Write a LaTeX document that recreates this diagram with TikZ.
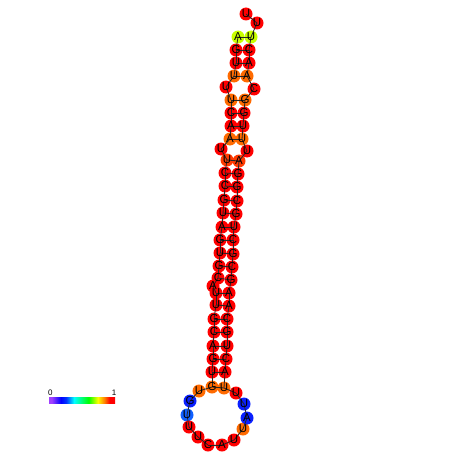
\documentclass[tikz,border=0pt]{standalone}
\usepackage{fontspec}
\setmainfont{Liberation Sans}
\definecolor{cR}{HTML}{FF0000}
\definecolor{cO}{HTML}{FF6A00}
\definecolor{cOR}{HTML}{FF3A00}
\definecolor{cYG}{HTML}{C8FF00}
\definecolor{cB}{HTML}{0A20FF}
\definecolor{cLB}{HTML}{1060FF}
\definecolor{cPu}{HTML}{A040FF}
\pgfdeclarehorizontalshading{rainbow}{100bp}{
  color(0bp)=(cPu);
  color(25bp)=(cPu);
  color(27bp)=(cPu);
  color(34bp)=(blue);
  color(38bp)=(blue!80!cyan);
  color(44bp)=(cyan);
  color(55bp)=(green);
  color(62bp)=(yellow);
  color(67bp)=(orange);
  color(71bp)=(red);
  color(75bp)=(red);
  color(100bp)=(red)}
\tikzset{
  base/.style={circle, minimum size=13pt, inner sep=0pt, draw=none},
  lbl/.style={font=\fontsize{11.5}{12}\selectfont, text=black},
  bb/.style={draw=black!85, line width=0.8pt},
  pr/.style={draw=black!85, line width=0.8pt}
}
\begin{document}
\begin{tikzpicture}[x=1pt,y=-1pt]
\useasboundingbox (0,0) rectangle (452,452);
\foreach \i/\x/\y/\c in {
1/238/37/cYG, 2/236/50/cR, 3/236/63/cR, 4/234/76/cO, 5/226/87/cR,
6/231/100/cO, 7/231/113/cR, 8/231/126/cR, 9/230/139/cO, 10/221/149/cR,
11/227/160/cOR, 12/225/173/cR, 13/225/186/cR, 14/224/200/cR, 15/223/213/cR,
16/222/227/cR, 17/220/240/cR, 18/220/253/cR, 19/219/266/cR, 20/218/278/cR,
21/213/286/cR, 22/216/293/cR, 23/216/305/cR, 24/214/319/cR, 25/214/332/cR,
26/213/346/cR, 27/213/359/cR, 28/212/372/cR, 29/212/387/cO, 30/199/391/cO,
31/190/401/cB, 32/187/415/cLB, 33/189/427/cR, 34/198/437/cR, 35/208/445/cR,
36/222/445/cR, 37/234/440/cR, 38/243/429/cO, 39/247/418/cB, 40/244/404/cB,
41/236/393/cR, 42/224/388/cO, 43/225/372/cR, 44/226/359/cR, 45/227/346/cR,
46/227/332/cR, 47/227/319/cR, 48/229/306/cR, 49/229/293/cR, 50/231/280/cR,
51/232/267/cR, 52/233/254/cR, 53/233/240/cR, 54/234/227/cR, 55/236/214/cR,
56/237/201/cR, 57/237/187/cR, 58/238/174/cR, 59/239/161/cOR, 60/247/151/cR,
61/242/139/cO, 62/243/126/cR, 63/244/113/cR, 64/245/100/cO, 65/254/89/cR,
66/247/76/cO, 67/249/63/cR, 68/249/50/cR, 69/251/37/cYG, 70/257/23/cR,
71/246/14/cR}
  \node[base, fill=\c] (n\i) at (\x,\y) {};
% backbone
\foreach \i [evaluate=\i as \j using int(\i+1)] in {1,...,70}
  \draw[bb] (n\i.center) -- (n\j.center);
% pairs
\foreach \a/\b in {1/69,2/68,3/67,4/66,6/64,7/63,8/62,9/61,11/59,12/58,13/57,14/56,
  15/55,16/54,17/53,18/52,19/51,20/50,22/49,23/48,24/47,25/46,26/45,27/44,28/43,29/42}
  \draw[pr] (n\a.center) -- (n\b.center);
% letters
\foreach \i/\t in {1/A,2/G,3/U,4/U,5/U,6/U,7/C,8/A,9/A,10/U,11/U,12/C,13/C,14/G,15/U,
  16/A,17/G,18/U,19/G,20/C,21/A,22/U,23/U,24/G,25/C,26/A,27/G,28/U,29/G,30/U,
  31/G,32/U,33/U,34/U,35/C,36/A,37/U,38/U,39/A,40/U,41/U,42/U,43/A,44/C,45/U,
  46/G,47/C,48/A,49/A,50/G,51/C,52/G,53/C,54/U,55/G,56/C,57/G,58/G,59/A,60/U,
  61/U,62/U,63/G,64/G,65/C,66/A,67/A,68/C,69/U,70/U,71/U}
  \node[lbl] (t\i) at (n\i) {\t};
% colour scale
\node[inner sep=0pt, minimum width=66pt, minimum height=6pt, shading=rainbow] (bar) at (82,400) {};
\node[font=\fontsize{8}{8}\selectfont, anchor=south] (l0) at ([xshift=1.5pt,yshift=-2pt]bar.north west) {0};
\node[font=\fontsize{8}{8}\selectfont, anchor=south] (l1) at ([xshift=-1pt,yshift=-2pt]bar.north east) {1};
\end{tikzpicture}
\end{document}
